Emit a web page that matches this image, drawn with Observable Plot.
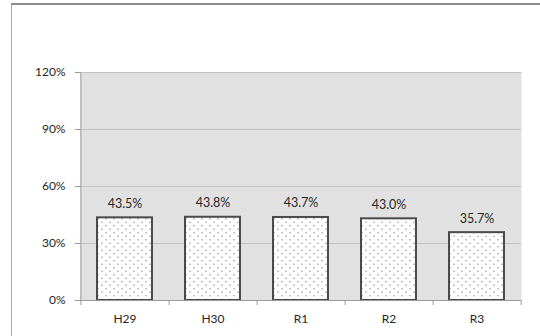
<!DOCTYPE html>
<html>
<head>
<meta charset="utf-8">
<script src="https://cdn.jsdelivr.net/npm/d3@7"></script>
<script src="https://cdn.jsdelivr.net/npm/@observablehq/plot@0.6"></script>
<style>
  html, body { margin: 0; padding: 0; background: #fff; }
  #wrap { position: relative; width: 540px; height: 336px; overflow: hidden; }
  #frame { position: absolute; left: 11px; top: 3px; width: 560px; height: 360px;
           border-top: 2px solid #8a8a8a; border-left: 1px solid #a8a8a8; box-sizing: border-box; }
  #chart { position: absolute; left: 0; top: 0; }
</style>
</head>
<body>
<div id="wrap"><div id="frame"></div><div id="chart"></div></div>
<script>
// Fiscal years and their rates
const years = ["H29", "H30", "R1", "R2", "R3"];
const rates = [0.435, 0.438, 0.437, 0.430, 0.357];
const yTicks = [0, 0.3, 0.6, 0.9, 1.2];

const data = years.map((year, i) => ({year, rate: rates[i]}));
const pct = d3.format(".1%");

const marginLeft = 80, marginRight = 19;
const halfStep = (540 - marginLeft - marginRight) / years.length / 2;

const chart = Plot.plot({
  width: 540,
  height: 336,
  marginLeft,
  marginRight,
  marginTop: 72,
  marginBottom: 36,
  style: {fontFamily: "Lato, sans-serif", fontSize: "12px", color: "#2a2a2a", background: "transparent"},
  x: {domain: years, paddingInner: 0.375, paddingOuter: 0.1875, label: null},
  y: {domain: [0, 1.2], label: null},
  marks: [
    Plot.frame({fill: "#e1e1e1", stroke: null}),
    Plot.ruleY(yTicks.slice(1), {stroke: "#c2c2c2", strokeWidth: 1}),
    Plot.barY(data, {x: "year", y: "rate", fill: "url(#dots)", stroke: "#4a4a4a", strokeWidth: 2}),
    Plot.text(data, {x: "year", y: "rate", text: d => pct(d.rate), dy: -14, fontSize: 12.5, fill: "#262626"}),
    Plot.ruleX(years, {x: d => d, dx: halfStep, y1: 0, y2: 0, insetBottom: -5, stroke: "#9a9a9a"}),
    Plot.ruleX(years.slice(0, 1), {x: d => d, dx: -halfStep, y1: 0, y2: 0, insetBottom: -5, stroke: "#9a9a9a"}),
    Plot.ruleY([0], {stroke: "#9a9a9a", insetLeft: -5}),
    Plot.ruleX([years[0]], {x: d => d, dx: -halfStep, y1: 0, y2: 1.2, stroke: "#9a9a9a"}),
    Plot.axisY({ticks: yTicks, tickFormat: d3.format(".0%"), tickSize: 5, tickPadding: 10, stroke: "#9a9a9a", fill: "#262626"}),
    Plot.axisX({tickSize: 0, tickPadding: 14, fill: "#262626"})
  ]
});

// dotted fill used by the bars
const ns = "http://www.w3.org/2000/svg";
const defs = document.createElementNS(ns, "defs");
defs.innerHTML = `
  <pattern id="dots" width="8" height="7" patternUnits="userSpaceOnUse">
    <rect width="8" height="7" fill="#ffffff"/>
    <circle cx="2" cy="1.75" r="0.8" fill="#9a9a9a"/>
    <circle cx="6" cy="5.25" r="0.8" fill="#9a9a9a"/>
  </pattern>`;
chart.insertBefore(defs, chart.firstChild);

document.getElementById("chart").appendChild(chart);
</script>
</body>
</html>
